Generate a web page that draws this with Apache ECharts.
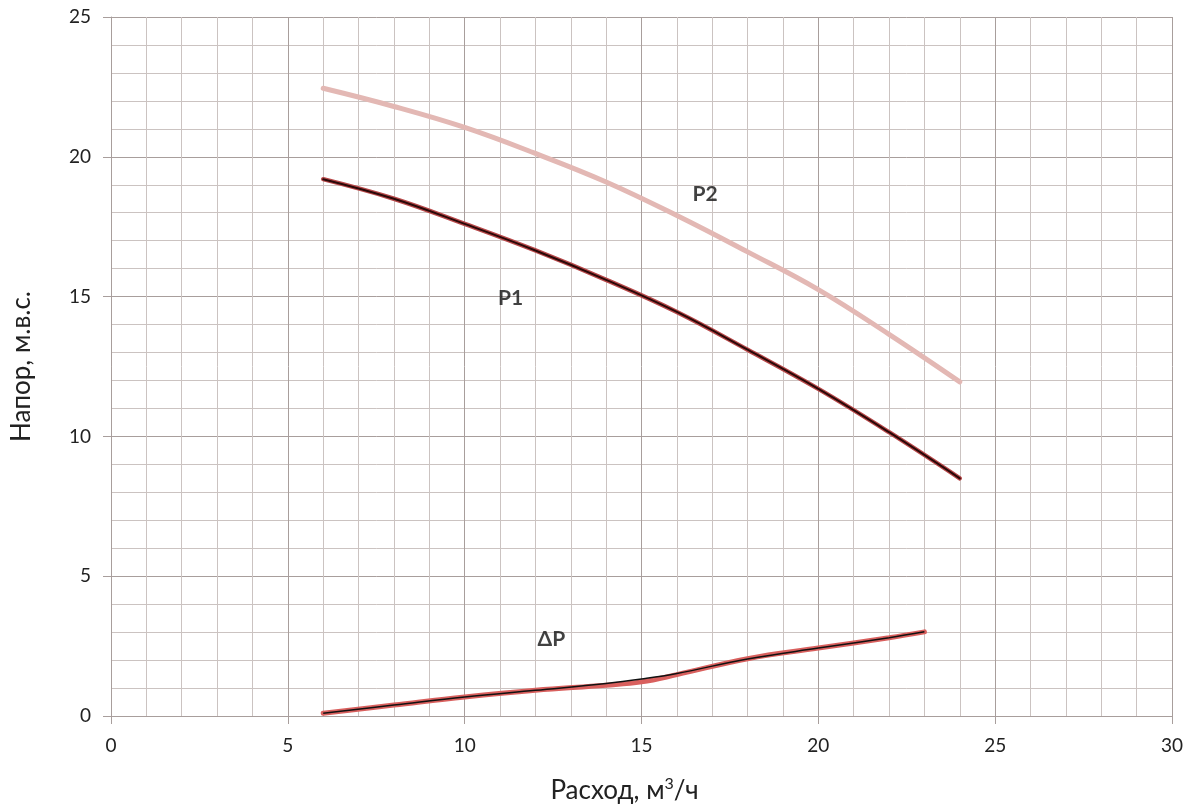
<!DOCTYPE html>
<html>
<head>
<meta charset="utf-8">
<script src="https://cdn.jsdelivr.net/npm/echarts@6/dist/echarts.min.js"></script>
<style>html,body{margin:0;padding:0;background:#fff}#c{width:1192px;height:809px}</style>
</head>
<body>
<div id="c"></div>
<script>
// Data
var flow = [6, 8, 10, 12, 14, 16, 18, 20, 22, 24];
var p2 = [22.45, 21.8, 21.05, 20.12, 19.1, 17.9, 16.6, 15.25, 13.65, 11.95];
var p1 = [19.2, 18.5, 17.6, 16.65, 15.6, 14.45, 13.1, 11.7, 10.15, 8.5];
var dpFlow = [6, 8, 10, 12, 14, 15, 16, 18, 20, 22, 23];
var dpBlack = [0.1, 0.39, 0.68, 0.92, 1.16, 1.32, 1.52, 2.04, 2.43, 2.8, 3.01];
var dpRed = [0.1, 0.39, 0.68, 0.92, 1.1, 1.22, 1.48, 2.05, 2.43, 2.8, 3.01];
var labelNames = ['P2', 'P1', 'ΔP'];
var labelX = [16.8, 11.3, 12.45];
var labelY = [18.65, 14.95, 2.75];
var xTicks = [0, 5, 10, 15, 20, 25, 30];
var yTicks = [0, 5, 10, 15, 20, 25];

function pairs(xs, ys) { return xs.map(function (x, i) { return [x, ys[i]]; }); }

var font = 'Lato, "Open Sans", sans-serif';
var majorColor = '#a89e9c';
var minorColor = '#cbc3c1';
var chart = echarts.init(document.getElementById('c'), null, { renderer: 'canvas' });
chart.setOption({
  animation: false,
  backgroundColor: '#ffffff',
  grid: { left: 111, right: 20, top: 17, bottom: 92, containLabel: false },
  xAxis: {
    type: 'value', min: xTicks[0], max: xTicks[xTicks.length - 1], interval: 5,
    name: 'Расход, м{sup|3}/ч', nameLocation: 'middle', nameGap: 60,
    nameTextStyle: { fontFamily: font, fontSize: 26, color: '#222', padding: [0, 34, 0, 0],
      rich: { sup: { fontFamily: font, fontSize: 16, color: '#222', verticalAlign: 'top', padding: [0, 0, 14, 0] } } },
    axisLine: { show: true, lineStyle: { color: majorColor, width: 1 } },
    axisTick: { show: true, length: 8, lineStyle: { color: majorColor } },
    axisLabel: { fontFamily: font, fontSize: 19, color: '#222', margin: 20 },
    splitLine: { show: true, lineStyle: { color: majorColor, width: 1 } },
    minorTick: { show: false, splitNumber: 5 },
    minorSplitLine: { show: true, lineStyle: { color: minorColor, width: 1 } }
  },
  yAxis: {
    type: 'value', min: yTicks[0], max: yTicks[yTicks.length - 1], interval: 5,
    name: 'Напор, м.в.с.', nameLocation: 'middle', nameGap: 76,
    nameTextStyle: { fontFamily: font, fontSize: 26, color: '#222' },
    axisLine: { show: true, lineStyle: { color: majorColor, width: 1 } },
    axisTick: { show: true, length: 8, lineStyle: { color: majorColor } },
    axisLabel: { fontFamily: font, fontSize: 19, color: '#222', margin: 20 },
    splitLine: { show: true, lineStyle: { color: majorColor, width: 1 } },
    minorTick: { show: false, splitNumber: 5 },
    minorSplitLine: { show: true, lineStyle: { color: minorColor, width: 1 } }
  },
  series: [
    { name: 'P2', type: 'line', data: pairs(flow, p2), smooth: 0.4, showSymbol: false,
      lineStyle: { color: '#e3b8b4', width: 5, cap: 'round' } },
    { name: 'P1 red', type: 'line', data: pairs(flow, p1), smooth: 0.4, showSymbol: false,
      lineStyle: { color: '#b8494a', width: 4.5, cap: 'round' } },
    { name: 'P1', type: 'line', data: pairs(flow, p1), smooth: 0.4, showSymbol: false,
      lineStyle: { color: '#2a0808', width: 2, cap: 'round' } },
    { name: 'dP red', type: 'line', data: pairs(dpFlow, dpRed), smooth: 0.4, showSymbol: false,
      lineStyle: { color: '#d9605e', width: 5, cap: 'round' } },
    { name: 'dP', type: 'line', data: pairs(dpFlow, dpBlack), smooth: 0.4, showSymbol: false,
      lineStyle: { color: '#111111', width: 1.5 } },
    { name: 'labels', type: 'scatter', symbolSize: 0, silent: true,
      data: labelNames.map(function (n, i) { return { value: [labelX[i], labelY[i]], name: n }; }),
      label: { show: true, position: 'inside', formatter: '{b}', fontFamily: font, fontWeight: 'bold', fontSize: 21, color: '#111' } }
  ]
});
</script>
</body>
</html>
